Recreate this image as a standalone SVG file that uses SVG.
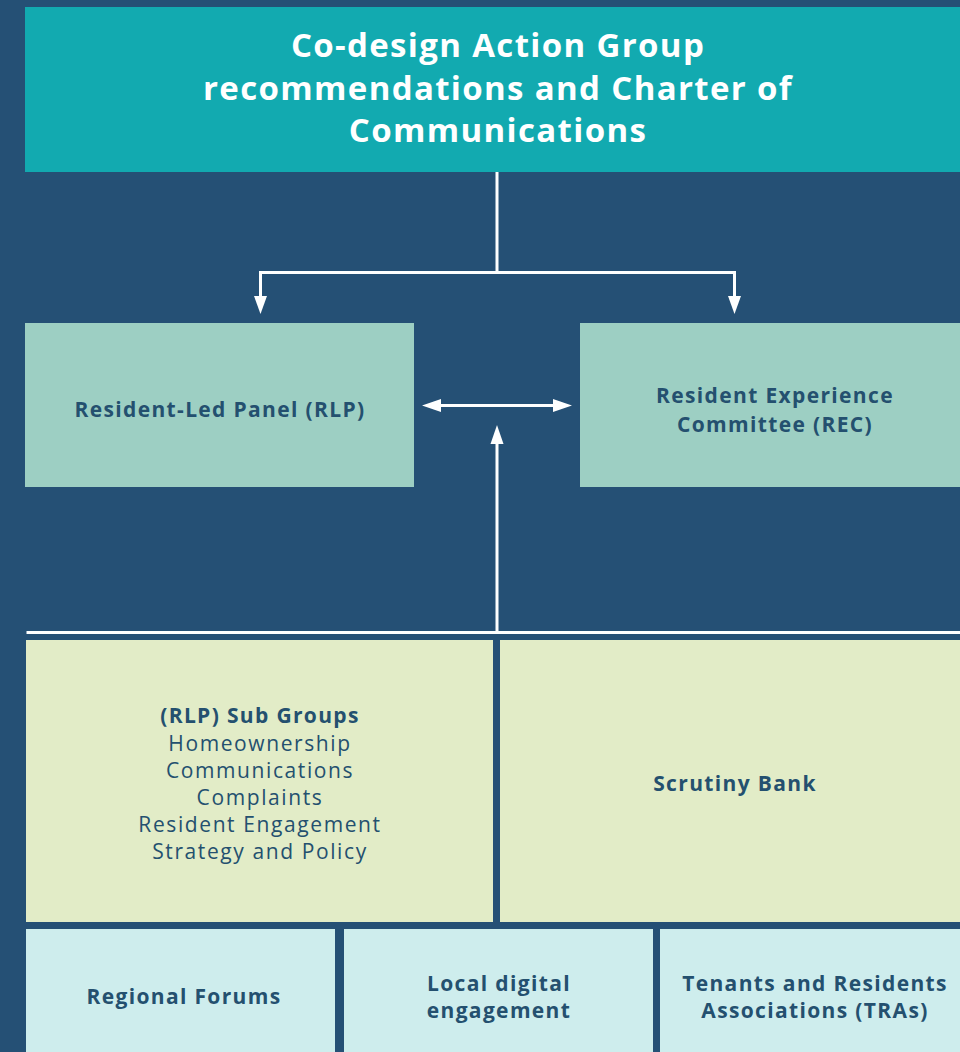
<svg xmlns="http://www.w3.org/2000/svg" width="960" height="1052" viewBox="0 0 960 1052">
  <style>
    .title { font-family: "Open Sans", "Liberation Sans", sans-serif; font-weight: 700; font-size: 33px; letter-spacing: 1.35px; fill: #ffffff; text-anchor: middle; }
    .label { font-family: "Open Sans", "Liberation Sans", sans-serif; font-weight: 700; font-size: 21px; letter-spacing: 1.35px; fill: #24506f; text-anchor: middle; }
    .item { font-family: "Open Sans", "Liberation Sans", sans-serif; font-weight: 500; font-size: 21px; letter-spacing: 1.6px; fill: #24506f; text-anchor: middle; }
    .wire { stroke: #ffffff; stroke-width: 3; fill: none; }
    .head { fill: #ffffff; }
  </style>

  <!-- background -->
  <rect x="0" y="0" width="960" height="1052" fill="#255075"/>

  <g id="charter">
    <rect x="25" y="7" width="935" height="165" fill="#12aab0"/>
    <text class="title" x="498" y="57">Co-design Action Group</text>
    <text class="title" x="498" y="100">recommendations and Charter of</text>
    <text class="title" x="498" y="142">Communications</text>
  </g>

  <g id="rlp">
    <rect x="25" y="323" width="389" height="164" fill="#9dcfc3"/>
    <text class="label" x="220" y="417">Resident-Led Panel (RLP)</text>
  </g>

  <g id="rec">
    <rect x="580" y="323" width="380" height="164" fill="#9dcfc3"/>
    <text class="label" x="775" y="403">Resident Experience</text>
    <text class="label" x="775" y="432">Committee (REC)</text>
  </g>

  <g id="sub-groups">
    <rect x="26" y="640" width="467" height="282" fill="#e2ecc7"/>
    <text class="label" x="260" y="723">(RLP) Sub Groups</text>
    <text class="item" x="260" y="751">Homeownership</text>
    <text class="item" x="260" y="778">Communications</text>
    <text class="item" x="260" y="805">Complaints</text>
    <text class="item" x="260" y="832">Resident Engagement</text>
    <text class="item" x="260" y="859">Strategy and Policy</text>
  </g>

  <g id="scrutiny-bank">
    <rect x="500" y="640" width="460" height="282" fill="#e2ecc7"/>
    <text class="label" x="735" y="791">Scrutiny Bank</text>
  </g>

  <g id="regional-forums">
    <rect x="26" y="929" width="309" height="123" fill="#ceeded"/>
    <text class="label" x="184" y="1004">Regional Forums</text>
  </g>

  <g id="local-digital">
    <rect x="344" y="929" width="309" height="123" fill="#ceeded"/>
    <text class="label" x="499" y="991">Local digital</text>
    <text class="label" x="499" y="1018">engagement</text>
  </g>

  <g id="tras">
    <rect x="660" y="929" width="300" height="123" fill="#ceeded"/>
    <text class="label" x="815" y="991">Tenants and Residents</text>
    <text class="label" x="815" y="1018">Associations (TRAs)</text>
  </g>

  <g id="connectors">
    <!-- charter splits to both bodies -->
    <path class="wire" d="M497 172 V272.5 M260.5 272.5 H734.5 M260.5 271 V297 M734.5 271 V297"/>
    <polygon class="head" points="254,296 267,296 260.5,314"/>
    <polygon class="head" points="728,296 741,296 734.5,314"/>
    <!-- two-way link between RLP and REC -->
    <path class="wire" d="M440 405.5 H555"/>
    <polygon class="head" points="422,405.5 441,399 441,412"/>
    <polygon class="head" points="572,405.5 553,399 553,412"/>
    <!-- lower tier feeds up -->
    <path class="wire" d="M26.5 632.5 H960 M497 632 V442"/>
    <polygon class="head" points="497,425 490.5,444 503.5,444"/>
  </g>
</svg>
